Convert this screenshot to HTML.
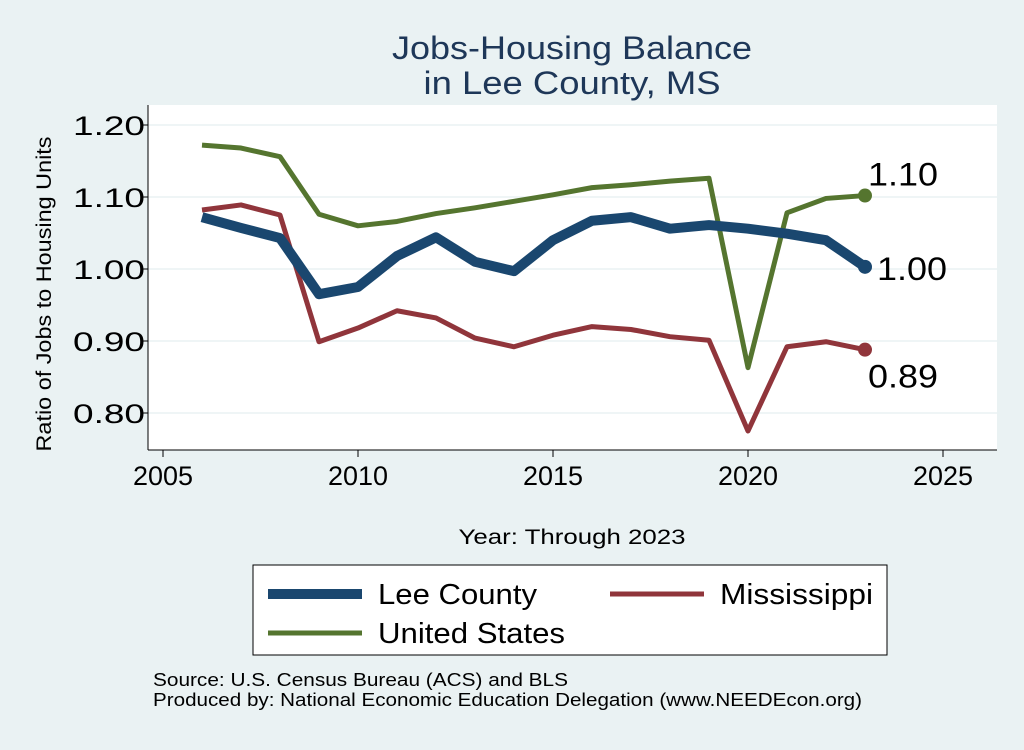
<!DOCTYPE html>
<html><head><meta charset="utf-8"><style>
body{margin:0;background:#eaf2f3;font-family:"Liberation Sans",Arial,sans-serif}
svg text{font-family:"Liberation Sans",Arial,sans-serif}
</style></head><body>
<svg id="c" width="1024" height="745" xmlns="http://www.w3.org/2000/svg">
<rect width="1024" height="745" fill="#eaf2f3"/>
<text x="572" y="59" font-size="32" fill="#1e3758" text-anchor="middle" textLength="360" lengthAdjust="spacingAndGlyphs">Jobs-Housing Balance</text>
<text x="572" y="94" font-size="32" fill="#1e3758" text-anchor="middle" textLength="297" lengthAdjust="spacingAndGlyphs">in Lee County, MS</text>
<rect x="148" y="105" width="849" height="345" fill="#fff"/>
<g id="grid"></g><g id="axes"></g><g id="series"></g>
<text transform="translate(51,294) rotate(-90)" font-size="21" text-anchor="middle" textLength="315" lengthAdjust="spacingAndGlyphs">Ratio of Jobs to Housing Units</text>
<text x="572" y="544" font-size="21" text-anchor="middle" textLength="227" lengthAdjust="spacingAndGlyphs">Year: Through 2023</text>
<g>
<rect x="253" y="565" width="634" height="90" fill="#fff" stroke="#000" stroke-width="1"/>
<line x1="268" y1="594" x2="362" y2="594" stroke="#1a476f" stroke-width="10"/>
<text x="378" y="604" font-size="29" textLength="159" lengthAdjust="spacingAndGlyphs">Lee County</text>
<line x1="610" y1="594" x2="704" y2="594" stroke="#90353b" stroke-width="5"/>
<text x="720" y="604" font-size="29" textLength="153" lengthAdjust="spacingAndGlyphs">Mississippi</text>
<line x1="268" y1="633" x2="362" y2="633" stroke="#55752f" stroke-width="5"/>
<text x="378" y="643" font-size="29" textLength="187" lengthAdjust="spacingAndGlyphs">United States</text>
</g>
<text x="153" y="686" font-size="18" textLength="415" lengthAdjust="spacingAndGlyphs">Source: U.S. Census Bureau (ACS) and BLS</text>
<text x="153" y="706" font-size="18" textLength="709" lengthAdjust="spacingAndGlyphs">Produced by: National Economic Education Delegation (www.NEEDEcon.org)</text>
</svg>
<script>
const years=[2006,2007,2008,2009,2010,2011,2012,2013,2014,2015,2016,2017,2018,2019,2020,2021,2022,2023];
const lee=[1.072,1.057,1.043,0.965,0.975,1.018,1.044,1.010,0.997,1.040,1.067,1.072,1.056,1.061,1.056,1.049,1.040,1.003];
const ms=[1.082,1.089,1.075,0.899,0.918,0.942,0.932,0.904,0.892,0.908,0.920,0.916,0.906,0.901,0.775,0.892,0.899,0.888];
const us=[1.172,1.168,1.156,1.076,1.060,1.066,1.077,1.085,1.094,1.103,1.113,1.117,1.122,1.126,0.863,1.078,1.098,1.102];
const yTicks=[0.80,0.90,1.00,1.10,1.20];
const xTicks=[2005,2010,2015,2020,2025];
const NS="http://www.w3.org/2000/svg";
const X=v=>163+(v-2005)*39;
const Y=v=>269-(v-1.0)*720;
function mk(t,a,p){const e=document.createElementNS(NS,t);for(const k in a)e.setAttribute(k,a[k]);p.appendChild(e);return e;}
const grid=document.getElementById('grid'),axes=document.getElementById('axes'),ser=document.getElementById('series');
mk('line',{x1:148,y1:105,x2:148,y2:450,stroke:'#000'},axes);
mk('line',{x1:148,y1:450,x2:997,y2:450,stroke:'#000'},axes);
yTicks.forEach(v=>{
 const g=mk('line',{x1:148,x2:997,y1:Y(v),y2:Y(v),stroke:'#eaf2f3','stroke-width':1.5},grid);
 
 
 mk('line',{x1:141,x2:148,y1:Y(v),y2:Y(v),stroke:'#000'},axes);
 const t=mk('text',{x:145,y:Y(v)+10,'font-size':27,'text-anchor':'end',textLength:72,lengthAdjust:'spacingAndGlyphs'},axes);t.textContent=v.toFixed(2);
 
 
});
xTicks.forEach(v=>{
 mk('line',{x1:X(v),x2:X(v),y1:450,y2:457,stroke:'#000'},axes);
 const t=mk('text',{x:X(v),y:485,'font-size':27,'text-anchor':'middle',textLength:60,lengthAdjust:'spacingAndGlyphs'},axes);t.textContent=v;
 
 
});
function draw(vals,col,w,name,lab,dx,dy){
 const p=mk('polyline',{points:years.map((y,i)=>X(y)+','+Y(vals[i])).join(' '),fill:'none',stroke:col,'stroke-width':w,'stroke-linejoin':'round'},ser);
 
 
 const n=vals.length-1;
 const c=mk('circle',{cx:X(years[n]),cy:Y(vals[n]),r:7,fill:col},ser);
 
 
 const t=mk('text',{x:X(years[n])+dx,y:Y(vals[n])+dy,'font-size':32,textLength:70,lengthAdjust:'spacingAndGlyphs'},ser);t.textContent=lab;
 
 
}
draw(us,'#55752f',5,'us',us[us.length-1].toFixed(2),3,-10);
draw(ms,'#90353b',5,'ms',ms[ms.length-1].toFixed(2),3,38);
draw(lee,'#1a476f',10,'lee',lee[lee.length-1].toFixed(2),12,13);
</script>
</body></html>
